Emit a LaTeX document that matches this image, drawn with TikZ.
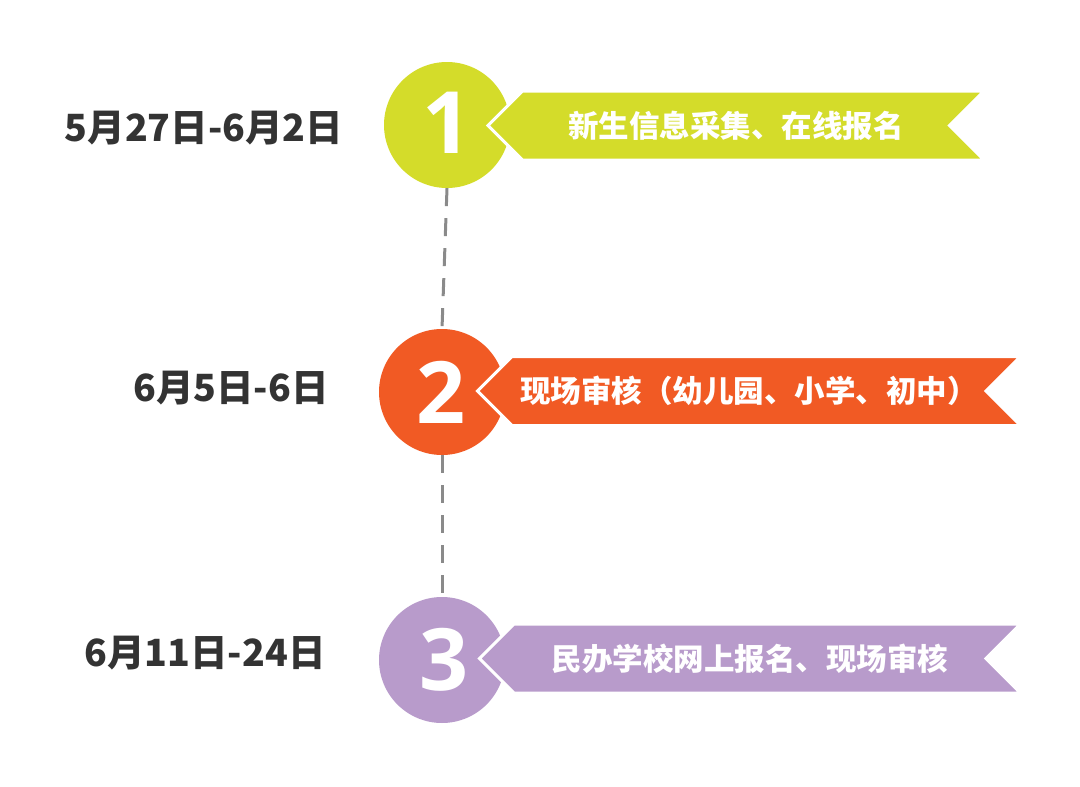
\documentclass[tikz,border=0pt]{standalone}
\usepackage{fontspec}
\setmainfont{Noto Sans CJK SC}
\newfontfamily\numfont{Open Sans}
\usetikzlibrary{shapes.symbols}

\definecolor{lime}{HTML}{D4DC2A}
\definecolor{tangerine}{HTML}{F15A24}
\definecolor{lilac}{HTML}{B89BCB}
\definecolor{datetext}{HTML}{333333}
\definecolor{linkgray}{HTML}{8A8A8A}

\begin{document}
\begin{tikzpicture}[
    x=1pt, y=-1pt,
    every node/.style={font=\bfseries},
    stepcircle/.style={
        circle,
        minimum size=126pt,
        inner sep=0pt
    },
    stepnum/.style={
        text=white,
        font=\numfont\fontsize{86}{90}\selectfont\bfseries
    },
    ribbon/.style={
        signal,
        signal to=west,
        signal from=east,
        signal pointer angle=90,
        draw=white,
        line width=3pt,
        minimum height=69pt,
        inner sep=0pt,
        text=white,
        font=\fontsize{30.5}{34}\selectfont\bfseries
    },
    datelabel/.style={
        text=datetext,
        font=\fontsize{37.5}{42}\selectfont\bfseries
    },
    link/.style={
        draw=linkgray,
        line width=3pt,
        dash pattern=on 18pt off 12pt
    }
]
\useasboundingbox (0,0) rectangle (1080,787);

% ==================== STEP CIRCLES ====================
\node[stepcircle, fill=lime] (c1) at (447,125) {};
\node[stepcircle, fill=tangerine] (c2) at (442,392) {};
\node[stepcircle, fill=lilac] (c3) at (442,660) {};

% Dashed links
\draw[link] (c1.south) -- (c2.north);
\draw[link] (c2.south) -- (c3.north);

% ==================== RIBBONS ====================
\node[ribbon, fill=lime, minimum width=496pt] (r1) at (736,125.5) {新生信息采集、在线报名};
\node[ribbon, fill=tangerine, minimum width=543pt] (r2) at (749,391) {现场审核（幼儿园、小学、初中）};
\node[ribbon, fill=lilac, minimum width=541pt] (r3) at (750,658.5) {民办学校网上报名、现场审核};

% Numbers
\node[stepnum] (n1) at (447,123) {1};
\node[stepnum] (n2) at (441,392) {2};
\node[stepnum] (n3) at (444,660) {3};

% ==================== DATES ====================
\node[datelabel] (d1) at (204,128) {5月27日-6月2日};
\node[datelabel] (d2) at (231,388) {6月5日-6日};
\node[datelabel] (d3) at (205,653) {6月11日-24日};

\end{tikzpicture}
\end{document}
